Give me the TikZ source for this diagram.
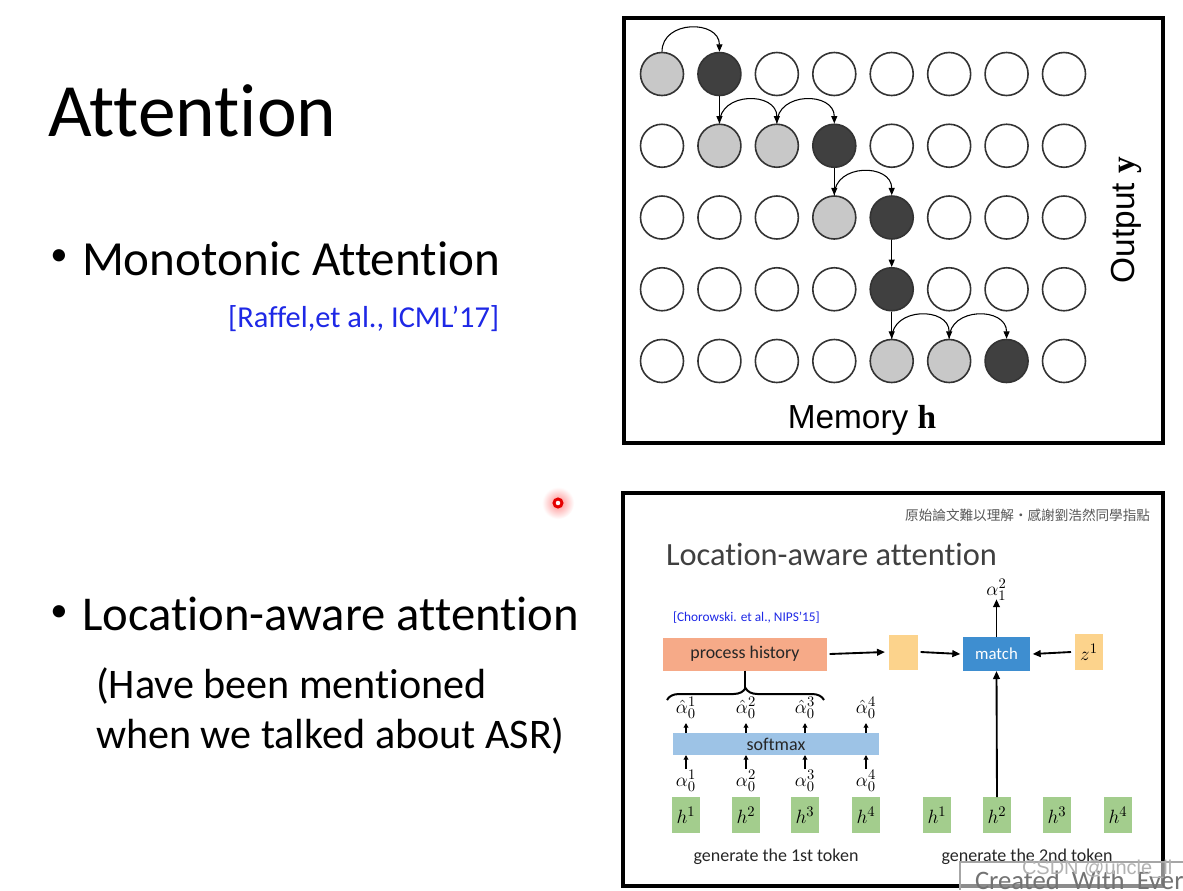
\documentclass[tikz,border=0pt]{standalone}
\usepackage[no-math]{fontspec}
\setmainfont[Ligatures={NoCommon}]{Carlito}
\newfontfamily\arialf{Liberation Sans}
\newfontfamily\serifbf{Liberation Serif}
\newfontfamily\cjkf{Noto Sans CJK TC}
\usetikzlibrary{arrows.meta,decorations.pathreplacing}
\newdimen\pxu \pxu=0.75pt
\newcommand\fsz[1]{\fontsize{#1pt}{#1pt}\selectfont}
\definecolor{refblue}{RGB}{30,40,230}
\definecolor{salmon}{RGB}{246,170,136}
\definecolor{ltorange}{RGB}{252,211,140}
\definecolor{matchblue}{RGB}{62,142,208}
\definecolor{softblue}{RGB}{157,195,230}
\definecolor{hgreen}{RGB}{163,205,141}
\definecolor{cgray}{RGB}{200,200,200}
\definecolor{cdark}{RGB}{64,64,64}
\definecolor{slidegray}{RGB}{64,64,64}
\tikzset{
  txt/.style={inner sep=0pt, outer sep=0pt},
  cir/.style={circle, draw=black!80, line width=1.2pt, minimum size={43*\pxu}, inner sep=0pt},
  cw/.style={fill=white},
  cl/.style={fill=cgray},
  cd/.style={fill=cdark},
  marr/.style={line width=0.8pt, -{Triangle[length=5.5pt,width=4.5pt]}},
  barr/.style={line width=1.4pt, -{Triangle[length=6pt,width=5pt]}},
  sarr/.style={line width=1.1pt, -{Triangle[length=3.5pt,width=3.5pt]}},
  fbox/.style={inner sep=0pt, outer sep=0pt},
  hbox/.style={fbox, fill=hgreen, minimum width={28*\pxu}, minimum height={36*\pxu}, font=\fsz{15}},
  mlab/.style={txt, inner sep=1pt, font=\fsz{15.5}},
  frame/.style={line width=3pt, black},
}
\begin{document}
\begin{tikzpicture}[x=0.75pt,y=-0.75pt]
\useasboundingbox (0,0) rectangle (1183,890);
\fill[white] (0,0) rectangle (1183,890);

% ---------- left text ----------
\node[txt, anchor=base west, font=\fsz{56.5}] (title) at (48,136) {Attention};
\node[txt, font=\fsz{26}] (bul1) at (59,258) {•};
\node[txt, anchor=base west, font=\fsz{36.8}] (b1) at (82,275) {Monotonic Attention};
\node[txt, anchor=base west, font=\fsz{22.8}, text=refblue] (ref1) at (228,327) {[Raffel,et al., ICML’17]};
\node[txt, font=\fsz{26}] (bul2) at (59,614) {•};
\node[txt, anchor=base west, font=\fsz{36.5}] (b2) at (82,630) {Location-aware attention};
\node[txt, anchor=base west, font=\fsz{31.6}] (s1) at (96,698) {(Have been mentioned};
\node[txt, anchor=base west, font=\fsz{31.6}] (s2) at (96,748) {when we talked about ASR)};

% ---------- laser dot ----------
\shade[inner color=red!45, outer color=white] (558,503) circle (16);
\draw[red!90!black, line width=2.2pt, fill=white] (558,503) circle (4);

% ---------- monotonic attention figure ----------
\draw[frame] (624,18) rectangle (1163,443);
\foreach \r/\row in {1/{cl,cd,cw,cw,cw,cw,cw,cw},2/{cw,cl,cl,cd,cw,cw,cw,cw},3/{cw,cw,cw,cl,cd,cw,cw,cw},4/{cw,cw,cw,cw,cd,cw,cw,cw},5/{cw,cw,cw,cw,cl,cl,cd,cw}}{
  \foreach \s [count=\c] in \row {
    \node[cir,\s] (c\r\c) at ({662+(\c-1)*57.43},{74+(\r-1)*71.75}) {};
  }
}
\draw[marr] (c11.north) .. controls +(0,-32) and +(0,-32) .. (c12.north);
\draw[marr] (c12.south) -- (c22.north);
\draw[marr] (c22.north) .. controls +(0,-32) and +(0,-32) .. (c23.north);
\draw[marr] (c23.north) .. controls +(0,-32) and +(0,-32) .. (c24.north);
\draw[marr] (c24.south) -- (c34.north);
\draw[marr] (c34.north) .. controls +(0,-32) and +(0,-32) .. (c35.north);
\draw[marr] (c35.south) -- (c45.north);
\draw[marr] (c45.south) -- (c55.north);
\draw[marr] (c55.north) .. controls +(0,-32) and +(0,-32) .. (c56.north);
\draw[marr] (c56.north) .. controls +(0,-32) and +(0,-32) .. (c57.north);
\node[txt, font=\fsz{25}] (memh) at (862,420) {\arialf Memory {\serifbf\bfseries h}};
\node[txt, font=\fsz{25}, rotate=90] (outy) at (1126,220) {\arialf Output {\serifbf\bfseries y}};

% ---------- location-aware attention slide ----------
\draw[frame] (623,493) rectangle (1163,886);
\node[txt, anchor=east, font=\fsz{10.2}, text=black!65] (note) at (1150,515) {\cjkf 原始論文難以理解・感謝劉浩然同學指點};
\node[txt, anchor=base west, font=\fsz{24.3}, text=slidegray] (lat) at (666,565) {Location-aware attention};
\node[txt, anchor=west, font=\fsz{10}, text=refblue] (ref2) at (673,618) {[Chorowski. et al., NIPS’15]};

\node[fbox, fill=salmon, minimum width={164*\pxu}, minimum height={33*\pxu}, font=\fsz{13.4}, text=black!85] (ph) at (745,654) {process history};
\node[fbox, fill=ltorange, minimum width={29*\pxu}, minimum height={35*\pxu}] (ob) at (903.5,652) {};
\node[fbox, fill=matchblue, minimum width={67*\pxu}, minimum height={34*\pxu}, font=\fsz{12.6}, text=white] (match) at (996.5,654) {match};
\node[fbox, fill=ltorange, minimum width={28*\pxu}, minimum height={36*\pxu}, font=\fsz{15}] (z1) at (1089,652) {\(z^1\)};
\node[mlab] (a12) at (996.5,590) {\(\alpha_1^2\)};

\node[fbox, fill=softblue, minimum width={206*\pxu}, minimum height={22*\pxu}, font=\fsz{13.5}, text=black!85] (sm) at (776,744) {softmax};

\foreach \i/\x in {1/686,2/746,3/805,4/866}{
  \node[mlab] (ah\i) at (\x,708) {\(\hat{\alpha}_0^{\i}\)};
  \node[mlab] (al\i) at (\x,781) {\(\alpha_0^{\i}\)};
  \node[hbox] (ha\i) at (\x,815) {\(h^{\i}\)};
  \draw[sarr] (sm.north -| ah\i) -- ++(0,-10);
  \draw[sarr] (al\i.north) -- (sm.south -| al\i);
}
\foreach \i/\x in {1/937,2/997,3/1057,4/1118}{
  \node[hbox] (hb\i) at (\x,815) {\(h^{\i}\)};
}
\draw[decorate, decoration={brace, amplitude={12*\pxu}}, line width=1.5pt] (667,700) -- (824,700);
\draw[line width=1.5pt] (ph.south) -- ++(0,18);

\draw[barr] ([xshift=2pt]ph.east) -- ([xshift=-3pt]ob.west);
\draw[barr] ([xshift=2pt]ob.east) -- ([xshift=-2pt]match.west);
\draw[barr] ([xshift=-3pt]z1.west) -- ([xshift=2pt]match.east);
\draw[barr] (hb2.north) -- (match.south);
\draw[barr] (match.north) -- ([yshift=2pt]a12.south);

\node[txt, font=\fsz{13.5}, text=black!85] (gen1) at (776,857) {generate the 1st token};
\node[txt, font=\fsz{13.5}, text=black!85] (gen2) at (1027,857) {generate the 2nd token};

% ---------- watermark ----------
\begin{scope}
\clip (0,0) rectangle (1183,890);
\fill[white, opacity=0.55] (960,862) rectangle (1183,890);
\draw[black!35, line width=0.8pt] (960,890) -- (960,862) -- (1183,862);
\node[txt, anchor=base west, font=\fsz{20}, text=black!55] (wm1) at (975,889) {Created\ \ With\ \ EverCam};
\node[txt, anchor=base west, font=\fsz{15}, text=black!30] (wm2) at (1022,874) {\arialf CSDN @uncle\_ll};
\end{scope}
\end{tikzpicture}
\end{document}
